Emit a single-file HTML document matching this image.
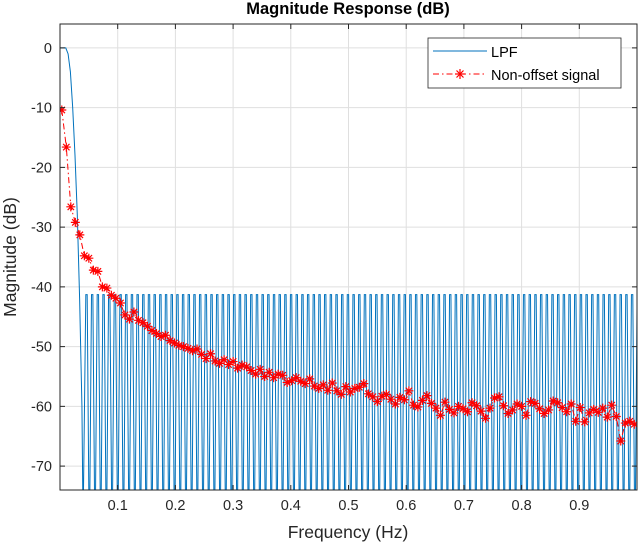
<!DOCTYPE html>
<html><head><meta charset="utf-8"><style>
body{margin:0;background:#fff;}
svg text{font-family:"Liberation Sans",sans-serif;}
</style></head><body>
<svg id="chart" width="640" height="547" viewBox="0 0 640 547">
<rect width="640" height="547" fill="#fff"/>
<text x="348" y="14" text-anchor="middle" font-size="16.5" font-weight="bold">Magnitude Response (dB)</text>
<g id="grid"></g>
<defs><clipPath id="clip"><rect x="60" y="24" width="577" height="466"/></clipPath></defs>
<g id="series" clip-path="url(#clip)"></g>
<rect x="60" y="24" width="577" height="466" fill="none" stroke="#262626" stroke-width="1"/>
<g id="ticks"></g>
<text x="348" y="538" text-anchor="middle" font-size="17.5" fill="#262626">Frequency (Hz)</text>
<text transform="translate(16,257) rotate(-90)" text-anchor="middle" font-size="17.5" fill="#262626">Magnitude (dB)</text>
<g>
<rect x="428" y="38" width="193" height="50" fill="#fff" stroke="#262626" stroke-width="0.8"/>
<line x1="433" y1="51" x2="487" y2="51" stroke="#0072bd" stroke-width="1"/>
<text x="491" y="57" font-size="14.5" fill="#000">LPF</text>
<line x1="433" y1="74" x2="487" y2="74" stroke="#f00" stroke-width="1" stroke-dasharray="6,3,1.5,3"/>
<g stroke="#f00" stroke-width="1.2"><line x1="455" y1="74" x2="465" y2="74"/><line x1="460" y1="69" x2="460" y2="79"/><line x1="456.5" y1="70.5" x2="463.5" y2="77.5"/><line x1="456.5" y1="77.5" x2="463.5" y2="70.5"/></g>
<text x="491" y="80" font-size="14.5" fill="#000">Non-offset signal</text>
</g>
</svg>
<script>
const xTicks=[0.1,0.2,0.3,0.4,0.5,0.6,0.7,0.8,0.9];
const xTickLabels=["0.1","0.2","0.3","0.4","0.5","0.6","0.7","0.8","0.9"];
const yTicks=[0,-10,-20,-30,-40,-50,-60,-70];
const yTickLabels=["0","-10","-20","-30","-40","-50","-60","-70"];
// LPF: passband points, then stopband notches
const lpfPassF=[0,0.01,0.014,0.018,0.022,0.026,0.03,0.034,0.038,0.04];
const lpfPassDb=[0,0,-1,-4,-10,-18,-28,-42,-60,-80];
const lpfStopStart=0.041;
const lpfNotchSpacing=0.00985;
const lpfStopLevel=-41.3;
// Non-offset signal
const sigDb=[-10.4,-16.6,-26.6,-29.2,-31.3,-34.8,-35.2,-37.2,-37.4,-40.0,-40.2,-41.4,-41.9,-42.7,-44.7,-45.4,-44.2,-45.6,-46.0,-46.6,-47.3,-47.8,-48.3,-48.1,-49.0,-49.4,-49.8,-50.0,-50.3,-50.7,-50.4,-51.3,-52.0,-51.2,-52.4,-52.8,-52.2,-53.0,-52.5,-53.6,-53.1,-53.4,-54.0,-54.6,-53.8,-55.0,-54.3,-55.2,-54.6,-54.8,-56.0,-55.7,-55.2,-55.8,-56.2,-55.4,-56.6,-57.0,-56.4,-57.3,-56.1,-57.4,-58.0,-56.7,-57.6,-57.0,-56.8,-56.2,-57.9,-58.4,-59.2,-58.3,-58.0,-58.8,-59.6,-58.5,-58.9,-57.4,-59.8,-60.1,-59.0,-58.2,-59.5,-60.3,-61.5,-59.3,-60.5,-61.1,-60.0,-60.4,-60.9,-59.4,-59.9,-60.8,-62.0,-60.3,-58.6,-58.4,-59.9,-61.2,-60.6,-59.6,-60.0,-61.5,-59.2,-59.5,-60.4,-61.2,-60.6,-59.1,-59.4,-60.2,-60.9,-59.6,-62.5,-60.2,-62.6,-61.1,-60.5,-61.0,-60.3,-61.8,-59.8,-61.7,-65.8,-62.8,-62.5,-63.0];
const X0=60,X1=637,Y0=490,Y1=24,XMIN=0,XMAX=1,YMIN=-74,YMAX=4;
function xs(f){return X0+(f-XMIN)/(XMAX-XMIN)*(X1-X0);}
function ys(d){return Y0-(d-YMIN)/(YMAX-YMIN)*(Y0-Y1);}
const NS="http://www.w3.org/2000/svg";
function mk(tag,attrs,parent){const e=document.createElementNS(NS,tag);for(const k in attrs)e.setAttribute(k,attrs[k]);parent.appendChild(e);return e;}
const grid=document.getElementById('grid'),ticks=document.getElementById('ticks'),ser=document.getElementById('series');
xTicks.forEach((t,i)=>{
 const gl=mk('line',{x1:xs(t),x2:xs(t),y1:Y1,y2:Y0,stroke:'#dfdfdf','stroke-width':1},grid);
 
 
 mk('line',{x1:xs(t),x2:xs(t),y1:Y0,y2:Y0-5,stroke:'#262626'},ticks);
 mk('line',{x1:xs(t),x2:xs(t),y1:Y1,y2:Y1+5,stroke:'#262626'},ticks);
 const tx=mk('text',{x:xs(t),y:Y0+20,'text-anchor':'middle','font-size':14.5,fill:'#262626'},ticks);
 tx.textContent=xTickLabels[i];
 
 
});
yTicks.forEach((t,i)=>{
 const gl=mk('line',{x1:X0,x2:X1,y1:ys(t),y2:ys(t),stroke:'#dfdfdf','stroke-width':1},grid);
 
 
 mk('line',{x1:X0,x2:X0+5,y1:ys(t),y2:ys(t),stroke:'#262626'},ticks);
 mk('line',{x1:X1,x2:X1-5,y1:ys(t),y2:ys(t),stroke:'#262626'},ticks);
 const tx=mk('text',{x:X0-8,y:ys(t)+5,'text-anchor':'end','font-size':14.5,fill:'#262626'},ticks);
 tx.textContent=yTickLabels[i];
 
 
});
// LPF path
let d='';
lpfPassF.forEach((f,i)=>{d+=(i?'L':'M')+xs(f).toFixed(2)+','+ys(lpfPassDb[i]).toFixed(2);});
for(let f=lpfStopStart;f<=1.01;f+=lpfNotchSpacing){
 const a=f+lpfNotchSpacing*0.5;
 d+='L'+xs(a-lpfNotchSpacing*0.12).toFixed(2)+','+ys(lpfStopLevel).toFixed(2);
 d+='L'+xs(a+lpfNotchSpacing*0.12).toFixed(2)+','+ys(lpfStopLevel).toFixed(2);
 d+='L'+xs(f+lpfNotchSpacing).toFixed(2)+','+ys(-85).toFixed(2);
}
const lp=mk('path',{d:d,fill:'none',stroke:'#0072bd','stroke-width':1},ser);


// signal
const n=sigDb.length;
let d2='';
sigDb.forEach((v,i)=>{const f=(i+0.4)/n;d2+=(i?'L':'M')+xs(f).toFixed(2)+','+ys(v).toFixed(2);});
const sl=mk('path',{d:d2,fill:'none',stroke:'#f00','stroke-width':1,'stroke-dasharray':'6,3,1.5,3'},ser);


sigDb.forEach((v,i)=>{
 const cx=xs((i+0.4)/n),cy=ys(v),r=4.5,q=3.2;
 const g=mk('path',{d:`M${cx-r},${cy}H${cx+r}M${cx},${cy-r}V${cy+r}M${cx-q},${cy-q}L${cx+q},${cy+q}M${cx-q},${cy+q}L${cx+q},${cy-q}`,stroke:'#f00','stroke-width':1.2,fill:'none'},ser);
 
 
});
</script>
</body></html>
